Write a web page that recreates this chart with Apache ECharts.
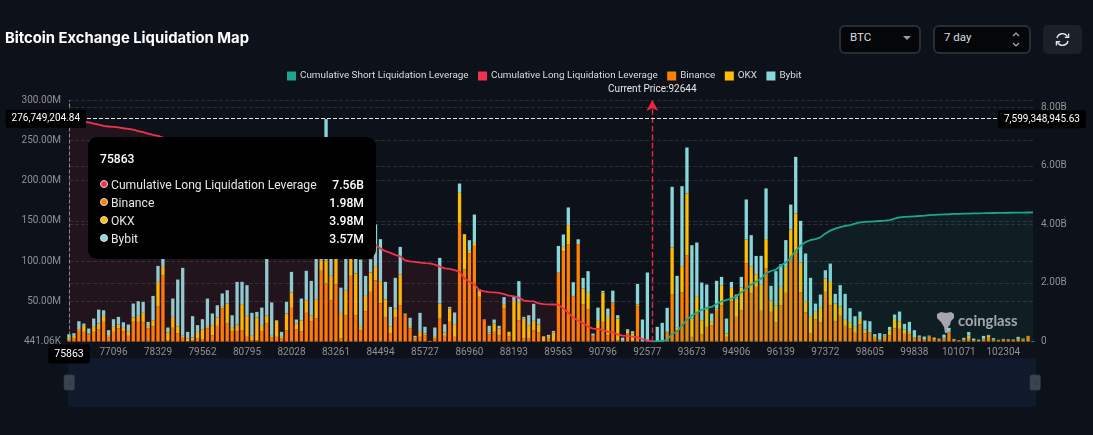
<!DOCTYPE html>
<html><head><meta charset="utf-8">
<script src="https://cdn.jsdelivr.net/npm/echarts@6/dist/echarts.min.js"></script>
<style>
html,body{margin:0;padding:0;background:#0d1119;width:1093px;height:435px;overflow:hidden;font-family:Roboto,sans-serif}
#c{position:absolute;left:0;top:0;width:1093px;height:435px}
.box{position:absolute;top:25px;height:25px;background:#050609;border:2px solid #2a2d34;border-radius:6px;color:#dcdde0;font-size:11.5px;line-height:21px;padding-left:9px;box-sizing:content-box}
#ref{position:absolute;left:1043px;top:25px;width:39px;height:29px;background:#1c2028;border-radius:5px}
</style></head><body>
<div id="c"></div>
<div class="box" style="left:839px;width:69px">BTC<svg style="position:absolute;right:8px;top:9px" width="8" height="5"><path d="M0 0H8L4 4Z" fill="#9a9ca2"/></svg></div>
<div class="box" style="left:933px;width:85px">7 day<svg style="position:absolute;right:9px;top:4px" width="8" height="17"><path d="M1 5L4 2L7 5M1 12L4 15L7 12" fill="none" stroke="#b0b2b8" stroke-width="1.1"/></svg></div>
<div id="ref"><svg style="position:absolute;left:12px;top:7px" width="15" height="15" viewBox="0 0 15 15"><path d="M2 6A5.6 5.6 0 0 1 12.4 4.6M13 9A5.6 5.6 0 0 1 2.6 10.4" fill="none" stroke="#e8e9ec" stroke-width="1.4"/><path d="M13.6 1.5V5.4H9.8M1.4 13.5V9.6H5.2" fill="none" stroke="#e8e9ec" stroke-width="1.3"/></svg></div>
<script>
const priceLevels = [
75863,76000,76137,76274,76411,76548,76685,76822,76959,
77096,77233,77370,77507,77644,77781,77918,78055,78192,
78329,78466,78603,78740,78877,79014,79151,79288,79425,
79562,79699,79836,79973,80110,80247,80384,80521,80658,
80795,80932,81069,81206,81343,81480,81617,81754,81891,
82028,82165,82302,82439,82576,82713,82850,82987,83124,
83261,83398,83535,83672,83809,83946,84083,84220,84357,
84494,84631,84768,84905,85042,85179,85316,85453,85590,
85727,85864,86001,86138,86275,86412,86549,86686,86823,
86960,87097,87234,87371,87508,87645,87782,87919,88056,
88193,88330,88467,88604,88741,88878,89015,89152,89289,
89563,89700,89837,89974,90111,90248,90385,90522,90659,
90796,90933,91207,91481,91755,91892,92029,92166,92303,
92577,92644,92714,92851,92988,93125,93262,93399,93536,
93673,93810,93947,94084,94221,94358,94495,94632,94769,
94906,95043,95180,95317,95454,95591,95728,95865,96002,
96139,96276,96413,96550,96687,96824,96961,97098,97235,
97372,97509,97646,97783,97920,98057,98194,98331,98468,
98605,98742,98879,99016,99153,99290,99427,99564,99701,
99838,99975,100112,100249,100386,100523,100660,100797,100934,
101071,101208,101345,101482,101619,101756,101893,102030,102167,
102304,102441,102578,102715,102852,102989,103126];
// all in millions
const binanceM = [1.98,4.1,13.6,12.4,9.1,12.4,15.7,24.8,6.2,12.4,16.5,13.2,7.4,24.8,24.8,24.8,16.5,19.4,44.2,82.7,
2.1,17.4,10.3,5,0.8,2.1,4.1,3.3,16.5,8.3,19.8,41.4,22.7,13.2,13.2,14.5,6.2,2.1,2.1,13.2,
22.7,5.4,6.2,4.1,14.5,42.2,15.7,13.2,36,25.6,28.9,88.1,72.4,51.7,71.1,4.1,33.1,81.9,33.1,14.5,
38,62,76.5,47.6,30.2,10.3,30.2,45.5,33.1,16.5,3.7,6.2,8.3,0,4.1,28.9,7.4,24.8,6.2,147.6,
90.1,109.6,119.1,55.8,26.9,9.5,12.4,8.3,41.4,6.6,1.2,26.9,4.1,4.1,14.5,11.6,0.8,4.1,1.2,85.6,
112.5,121.2,56.7,121.2,46.3,40.1,7,15.7,24.8,8.3,48.8,2.1,0.4,10.3,1.2,44.2,0,0,0,0,
0,11.6,59.1,14.5,61.2,107.5,6.2,35.1,9.1,18.6,20.7,38.5,45.5,6.2,50.4,31,39.3,97.2,60,68.2,
38.5,91,37.2,24,45.5,60.8,102.1,109.6,61.2,36.4,10.3,27.7,24,62,45.5,25.6,32.3,19.8,16.5,11.2,
21.5,10.3,11.2,5,2.1,6.2,7.9,16.5,16.1,9.9,9.1,4.1,5.8,2.1,7,2.9,2.9,4.1,11.6,2.5,
0.8,1.7,3.7,1.2,0.8,2.9,5,1.7,1.7,2.9,2.1,1.7,2.5,2.9,6.2,0.4];
const okxM = [3.98,3.3,2.1,7.4,1.2,6.2,7,7.4,2.1,6.2,5,4.1,5.8,5.4,7.4,11.2,3.3,7.4,30.2,10.3,
9.5,13.6,9.1,2.5,3.3,3.3,8.3,12.4,2.1,12.4,10.3,2.1,24.8,4.1,8.3,32.3,26.9,6.2,28.1,6.6,
10.3,2.1,19.8,2.1,20.7,19,7,13.6,15.7,7.4,24,13.2,28.9,30.2,32.3,31.8,31,21.5,51.7,4.1,
19,24,17.4,26.9,22.3,9.1,11.2,38,1.2,2.1,1.7,6.2,2.1,1.2,2.1,18.6,4.1,16.5,15.7,37.2,
43.4,3.3,3.7,7,0.8,2.1,10.3,8.3,5.4,5.8,49.6,22.3,24.8,16.5,11.6,9.9,5.4,2.1,10.3,0.3,
5.4,23.6,0.3,0.2,19.8,20.7,1.2,10.3,36.4,22.7,0.2,26.9,0.8,3.3,9.1,2.1,0,0,0,0,
0,0.8,57.9,2.9,32.7,76.5,22.7,20.7,17.8,21.9,4.1,2.9,24.8,4.1,16.5,22.7,28.1,29.8,33.1,15.7,
33.1,36.4,14.5,20.7,22.7,32.3,37.2,49.6,37.2,14.1,20.7,9.5,18.2,16.5,28.9,21.9,11.6,7.4,7.9,7.4,
7,5,0.8,2.1,0.8,1.7,6.6,12,9.5,5.4,2.9,1.7,0.4,0.8,0.4,2.1,0.8,0.8,0.8,0.8,
0.8,1.2,4.5,0.8,0.8,0.8,2.5,1.2,0.4,0.4,0.8,0.8,1.2,0.4,0.8,0.2];
const bybitM = [3.57,3.3,9.9,2.9,6.2,10.3,17.3,7,6.2,9.5,9.5,7,8.3,17.3,18.2,13.6,5,30.2,19.8,16.5,
6.2,22.7,57.9,84.3,8.3,26.5,8.3,12.4,35.1,14.5,15.3,16.5,16.5,15.7,52.9,27.7,37.2,27.7,7,22.7,
78.6,41.4,0.8,6.2,14.5,25.6,5,26.9,36.4,42.6,58.7,16.5,175,23.6,4.1,31.4,43.4,4.1,24.8,83.5,
24.8,16.5,51.7,52.9,21.9,24,38,34.3,0.8,11.2,2.1,23.6,8.3,0,11.6,56.7,10.3,2.1,14.5,11.6,
0.3,13.2,35.1,2.5,0.2,8.3,5,3.3,8.7,0.2,6.2,26.1,2.1,12.4,21.1,7.4,0.8,2.5,2.1,33.1,
15.3,21.9,17,5.8,13.2,26.9,2.1,16.5,2.1,10.3,14.5,4.1,4.1,2.1,2.9,25.6,27.7,86,0,18.6,
23.6,29.8,75.3,64.5,99.2,57.1,91,67.4,46.7,30.6,10.3,34.3,10.3,18.6,7.4,5,13.2,49.6,39.3,22.7,
35.1,62.9,17.8,43,28.1,33.1,31,70.3,51.7,59.1,48.4,10.3,16.5,10.3,22.7,12,26.5,32.3,17.4,13.2,
9.1,11.2,13.6,2.5,7.9,1.7,4.1,5.4,12,7,12.8,8.7,1.7,3.7,0.4,0.4,0.4,4.1,5,0.4,
0.4,2.1,4.1,2.1,1.2,3.7,1.2,1.7,0.4,0.4,0.4,0.4,2.5,0.8,0.4,0.4];
// billions, index 0..118
const longB = [7.56,7.555,7.54,7.52,7.49,7.45,7.41,7.37,7.35,7.34,7.32,7.29,7.27,7.24,7.19,7.16,7.11,7.06,7.03,
6.97,6.9,6.82,6.76,6.66,6.6,6.53,6.41,6.33,6.28,6.17,6.09,5.98,5.9,5.84,5.72,5.61,5.52,5.47,5.42,5.33,
5.19,5.13,5.09,5.06,4.98,4.85,4.79,4.72,4.6,4.5,4.38,4.2,4,3.88,3.72,3.68,3.6,3.48,3.42,3.39,3.36,3.33,3.3,
3.18,3.09,3.03,2.96,2.91,2.77,2.74,2.72,2.7,2.68,2.67,2.63,2.56,2.5,2.48,2.44,2.39,2.15,2.05,1.95,1.76,1.71,
1.69,1.68,1.66,1.62,1.57,1.54,1.5,1.4,1.38,1.37,1.3,1.28,1.27,1.265,1.26,1.13,0.99,0.82,0.72,0.62,0.51,0.44,
0.43,0.39,0.34,0.31,0.24,0.2,0.19,0.17,0.14,0.085,0.034,0];
// billions, index 118..195
const shortB = [0,0.01,0.025,0.05,0.26,0.34,0.55,0.75,0.89,0.99,1.08,1.15,1.18,1.28,1.37,1.42,1.47,1.54,1.68,1.81,
1.95,2.05,2.15,2.34,2.41,2.46,2.6,2.7,2.87,3.11,3.28,3.4,3.47,3.5,3.56,3.69,3.79,3.86,3.91,3.95,3.98,4.03,4.07,
4.09,4.1,4.11,4.12,4.13,4.15,4.2,4.24,4.26,4.27,4.28,4.29,4.3,4.32,4.33,4.34,4.345,4.35,4.36,4.365,4.37,4.375,
4.38,4.383,4.386,4.39,4.393,4.396,4.4,4.402,4.404,4.406,4.408,4.41,4.412];
const leftTicks = [441060,50e6,100e6,150e6,200e6,250e6,300e6];
const rightTicks = [0,2e9,4e9,6e9,8e9];
const currentPrice = '92644';
const pointerLeft = 276749204.84, pointerRight = 7599348945.63;

const cats = priceLevels.map(String);
const M = a => a.map(v => v * 1e6);
const longData = cats.map((_, i) => i < longB.length ? longB[i] * 1e9 : null);
const shortStart = cats.length - shortB.length;
const shortData = cats.map((_, i) => i >= shortStart ? shortB[i - shortStart] * 1e9 : null);

const C = {short:'#1fa58c', long:'#f0324c', binance:'#ff8000', okx:'#ffbe00', bybit:'#88d8db'};
const FONT = 'Roboto';
const barCommon = {type:'bar', stack:'ex', yAxisIndex:0, barWidth:3.3, z:2};
const lineCommon = {type:'line', yAxisIndex:1, showSymbol:false, smooth:false, connectNulls:false, z:5};
const ptrLabel = {show:true, backgroundColor:'#000', color:'#fff', fontSize:10, fontFamily:FONT, padding:[4,6,4,6], borderRadius:2, shadowBlur:0};

const fmtL = v => v < 1e6 ? (v/1e3).toFixed(2)+'K' : (v/1e6).toFixed(2)+'M';
const fmtR = v => v === 0 ? '0' : (v/1e9).toFixed(2)+'B';
const fmtTip = v => v >= 1e9 ? (v/1e9).toFixed(2)+'B' : (v/1e6).toFixed(2)+'M';

const chart = echarts.init(document.getElementById('c'), null, {renderer:'canvas'});
const seriesNames = ['Cumulative Short Liquidation Leverage','Cumulative Long Liquidation Leverage','Binance','OKX','Bybit'];
chart.setOption({
  animation:false,
  backgroundColor:'#0d1119',
  title:{text:'Bitcoin Exchange Liquidation Map', left:5, top:31, padding:0, textStyle:{color:'#fff', fontSize:14.8, fontWeight:'bold', fontFamily:'Inter'}},
  legend:{top:66, left:282, icon:'rect', itemWidth:9, itemHeight:9, itemGap:9.5, data:seriesNames, textStyle:{color:'#dcdde0', fontSize:9.85, fontFamily:FONT, padding:[0,0,0,-1]}},
  grid:{left:69, right:60, top:100, bottom:93.5},
  tooltip:{show:true, trigger:'item', triggerOn:'none', alwaysShowContent:true, position:[88,137], padding:0, backgroundColor:'transparent', borderWidth:0, shadowBlur:0, extraCssText:'box-shadow:none;',
    formatter:()=>{
      const i=0;
      const rows=[[seriesNames[1],C.long,fmtTip(longData[i])],[seriesNames[2],C.binance,fmtTip(binanceM[i]*1e6)],[seriesNames[3],C.okx,fmtTip(okxM[i]*1e6)],[seriesNames[4],C.bybit,fmtTip(bybitM[i]*1e6)]];
      return `<div style="width:264px;height:122px;background:#000;border-radius:9px;padding:0 12px;position:relative;font-family:${FONT};font-size:12.15px;color:#e6e6e6">`+
        `<div style="position:absolute;left:12px;top:12px;font-weight:500;color:#fff">${cats[i]}</div>`+
        rows.map((r,k)=>`<div style="position:absolute;left:12px;right:12px;top:${[40,57.5,75.5,93.5][k]}px;height:16px;line-height:16px">`+
          `<span style="position:absolute;left:0;top:3px;width:6px;height:6px;border-radius:50%;background:${r[1]};border:1px solid #ddd"></span>`+
          `<span style="position:absolute;left:11px;white-space:nowrap">${r[0]}</span>`+
          `<span style="position:absolute;right:0;font-weight:500;color:#fff">${r[2]}</span></div>`).join('')+`</div>`;
    }},
  xAxis:{type:'category', data:cats, boundaryGap:false,
    axisLine:{show:true, lineStyle:{color:'#1d2129'}}, axisTick:{show:false},
    axisLabel:{interval:8, color:'#8f9196', fontSize:10, fontFamily:FONT, margin:6, showMinLabel:true, hideOverlap:false},
    splitLine:{show:false},
    axisPointer:{show:true, status:'show', value:0, type:'line', lineStyle:{color:'#8a8d92', type:'dashed', width:1}, label:Object.assign({},ptrLabel,{margin:3,fontSize:10.5,padding:[4,6,4,6]}), handle:{show:false}}
  },
  yAxis:[
    {type:'value', min:441060, max:300e6, position:'left',
      axisLine:{show:false}, axisTick:{show:false, customValues:leftTicks},
      axisLabel:{color:'#8f9196', fontSize:10, fontFamily:FONT, margin:8, formatter:fmtL, customValues:leftTicks},
      splitLine:{show:true, lineStyle:{color:'#2a2d33', type:'dashed', width:1}},
      axisPointer:{show:true, status:'show', value:pointerLeft, type:'line', lineStyle:{color:'#e8e8e8', type:'dashed', width:1},
        label:Object.assign({},ptrLabel,{margin:-17, formatter:()=>pointerLeft.toLocaleString('en-US',{minimumFractionDigits:2})})}
    },
    {type:'value', min:0, max:8.256e9, position:'right',
      axisLine:{show:false}, axisTick:{show:false, customValues:rightTicks},
      axisLabel:{color:'#8f9196', fontSize:10, fontFamily:FONT, margin:8, formatter:fmtR, customValues:rightTicks},
      splitLine:{show:true, lineStyle:{color:'#2a2d33', type:'dashed', width:1}},
      axisPointer:{show:true, status:'show', value:pointerRight, type:'line', lineStyle:{opacity:0},
        label:Object.assign({},ptrLabel,{margin:-35, formatter:()=>pointerRight.toLocaleString('en-US',{minimumFractionDigits:2})})}
    }
  ],
  dataZoom:[{type:'slider', xAxisIndex:0, start:0, end:100, left:67, right:58, top:358, height:49, showDetail:false, brushSelect:false,
    showDataShadow:false, borderColor:'transparent', backgroundColor:'#0d1119', fillerColor:'#111a2d', moveHandleSize:0,
    handleIcon:'path://M2,0 H10 Q12,0 12,2 V16 Q12,18 10,18 H2 Q0,18 0,16 V2 Q0,0 2,0 Z M4,6 V12 H5 V6 Z M7,6 V12 H8 V6 Z',
    handleSize:'30%', handleStyle:{color:'#3a4450', borderColor:'#3a4450'}, emphasis:{handleStyle:{color:'#3a4450'}}, zoomLock:true}],
  series:[
    Object.assign({},lineCommon,{name:seriesNames[0], data:shortData, itemStyle:{color:C.short}, lineStyle:{width:1.8,color:C.short}, areaStyle:{color:'rgba(31,165,140,0.13)'}}),
    Object.assign({},lineCommon,{name:seriesNames[1], data:longData, itemStyle:{color:C.long}, lineStyle:{width:1.8,color:C.long}, areaStyle:{color:'rgba(240,50,76,0.13)'},
      markLine:{silent:true, symbol:['none','arrow'], symbolSize:[9,11], animation:false,
        lineStyle:{color:'#e8283f', type:'dashed', width:1.4},
        label:{show:true, position:'end', formatter:'Current Price:'+currentPrice, color:'#e8e8e8', fontSize:10, fontFamily:FONT, distance:6},
        data:[{xAxis:currentPrice}]}}),
    Object.assign({},barCommon,{name:seriesNames[2], data:M(binanceM), itemStyle:{color:C.binance}}),
    Object.assign({},barCommon,{name:seriesNames[3], data:M(okxM), itemStyle:{color:C.okx}}),
    Object.assign({},barCommon,{name:seriesNames[4], data:M(bybitM), itemStyle:{color:C.bybit}})
  ],
  graphic:[
    {type:'text', z:50, left:958, top:314, style:{text:'coinglass', fill:'rgba(190,190,195,0.85)', font:'bold 14.8px Lato'}},
    {type:'polygon', z:50, left:937, top:312, shape:{points:[[0,2],[4,0],[9,1],[14,0],[17,2],[17,6],[14,9],[13,13],[11,15],[11,19],[10,21],[8,21],[7,15],[4,10],[0,6]]}, style:{fill:'rgba(190,190,195,0.85)'}}
  ]
});
chart.dispatchAction({type:'showTip', seriesIndex:2, dataIndex:0});
</script></body></html>
